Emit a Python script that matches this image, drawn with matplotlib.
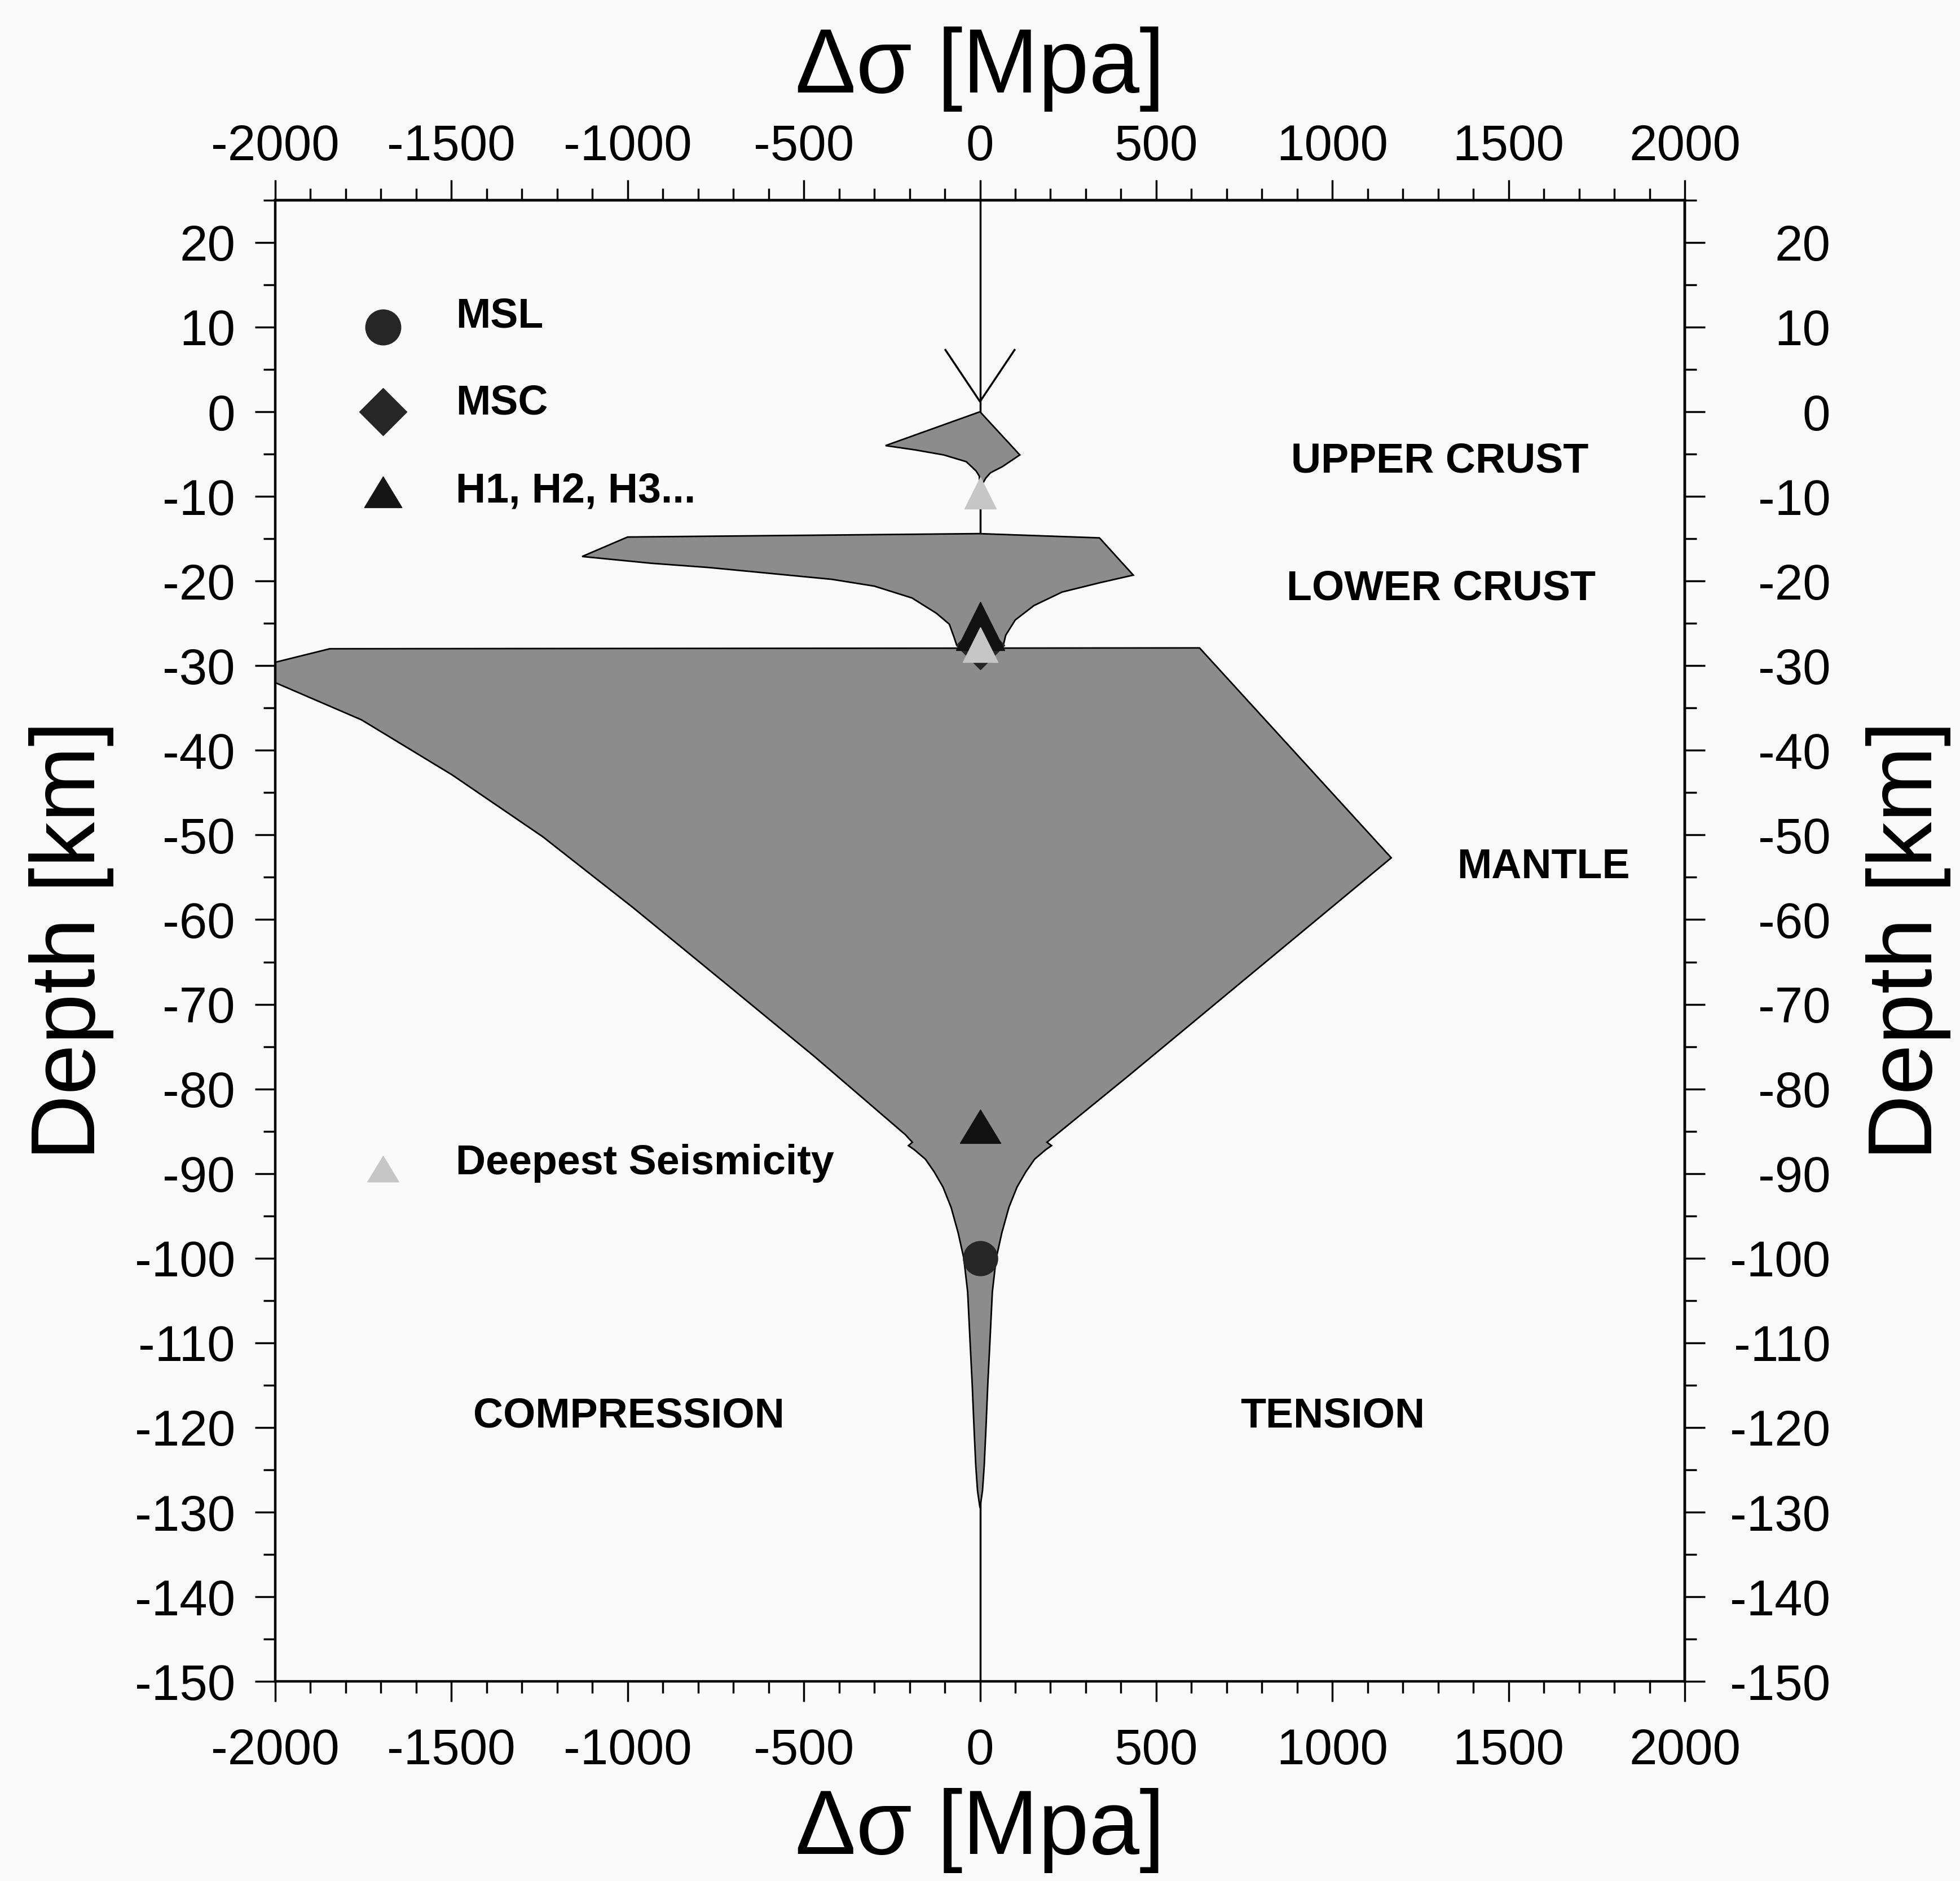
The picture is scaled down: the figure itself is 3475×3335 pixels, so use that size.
import matplotlib
matplotlib.use("Agg")
import matplotlib.pyplot as plt
from matplotlib.ticker import MultipleLocator

plt.rcParams['font.family'] = ['Liberation Sans', 'DejaVu Sans']
plt.rcParams['axes.unicode_minus'] = False

# stress envelope outlines: delta sigma [MPa], depth [km]
upper_x = [0, 113, 63, 30, 17, 0, -2, -11, -39, -103, -185, -268, 0]
upper_y = [0, -5.1, -6.5, -7.2, -7.8, -9.0, -7.6, -7.0, -5.9, -5.1, -4.5, -4.0, 0]

lower_x = [-1129, -1000, -2.5, 339, 435, 340, 233, 153, 100, 73, 66,
           -66, -74, -87, -124, -193, -300, -420, -607, -770, -933, -1129]
lower_y = [-17.1, -14.8, -14.4, -14.9, -19.3, -20.2, -21.3, -22.9, -24.6, -26.4, -27.6,
           -27.6, -26.6, -25.1, -23.8, -22.0, -20.6, -19.8, -19.05, -18.4, -17.9, -17.1]

mantle_x = [-1845, 623, 1167, 420, 190, 203, 186, 155, 130, 105, 82, 62, 46, 35, 28, 22, 17, 12, 7, 0,
            -7, -12, -17, -22, -28, -35, -46, -62, -82, -105, -130, -155, -186, -203, -192,
            -212, -469, -726, -984, -1241, -1498, -1755, -2000, -2000, -1845]
mantle_y = [-28.0, -27.9, -52.7, -78.5, -86.3, -86.7, -87.2, -88.3, -89.8, -91.6, -94.0, -97.0, -100.0,
            -104.0, -110.0, -115.0, -120.0, -124.5, -127.5, -129.5,
            -127.5, -124.5, -120.0, -115.0, -110.0, -104.0, -100.0, -97.0, -94.0, -91.6, -89.8, -88.3,
            -87.2, -86.7, -86.3,
            -85.4, -76.2, -67.4, -58.6, -50.2, -42.9, -36.4, -32.0, -29.6, -28.0]

# arrow at the surface
arrow_x = [-98, 0, 98]
arrow_y = [7.3, 1.2, 7.3]

# legend
legend_labels = ['MSL', 'MSC', 'H1, H2, H3...', 'Deepest Seismicity']
legend_y = [10.0, 0.0, -9.5, -89.5]
legend_text_y = [9.9, -0.3, -10.7, -90.1]

# observed points on the profile
msl_y = [-100.0]
msc_y = [-27.6]
h_big_y = [-25.3]
h_y = [-84.5]
deep_y = [-9.6]
deep_big_y = [-27.5]

regions = ['UPPER CRUST', 'LOWER CRUST', 'MANTLE', 'COMPRESSION', 'TENSION']
region_x = [1305, 1308, 1598, -996, 1000]
region_y = [-7.15, -22.2, -55.1, -120.0, -120.0]

x_ticks = [-2000, -1500, -1000, -500, 0, 500, 1000, 1500, 2000]
x_labels = ['-2000', '-1500', '-1000', '-500', '0', '500', '1000', '1500', '2000']
y_ticks = list(range(20, -151, -10))
y_labels = [str(v) for v in y_ticks]

bg = '#fafafa'
fill_c = '#8c8c8c'
dark = '#262626'
light = '#c6c6c6'
tri = [(-1, -0.8), (1, -0.8), (0, 0.85), (-1, -0.8)]

fig = plt.figure(figsize=(34.75, 33.35), dpi=100, facecolor=bg)
ax = fig.add_axes([0.1404, 0.1061, 0.7192, 0.7875])
ax.set_facecolor(bg)
ax.set_xlim(-2000, 2000)
ax.set_ylim(-150, 25)

ax.plot([0, 0], [-150, 25], color='black', lw=2.5, zorder=1)
ax.plot(arrow_x, arrow_y, color='black', lw=2.5, zorder=1)
for xs, ys in [(upper_x, upper_y), (lower_x, lower_y), (mantle_x, mantle_y)]:
    ax.fill(xs, ys, facecolor=fill_c, edgecolor='black', lw=2.0, zorder=2)

ax.plot([0] * len(msc_y), msc_y, ls='none', marker='D', ms=44, color=dark, zorder=4)
ax.plot([0] * len(h_big_y), h_big_y, ls='none', marker='^', ms=62, color='#111111', zorder=5)
ax.plot([0] * len(h_y), h_y, ls='none', marker=tri, ms=52, color='#111111', zorder=5)
ax.plot([0] * len(msl_y), msl_y, ls='none', marker='o', ms=44, color=dark, zorder=5)
ax.plot([0] * len(deep_big_y), deep_big_y, ls='none', marker='^', ms=45, color=light, zorder=6)
ax.plot([0] * len(deep_y), deep_y, ls='none', marker='^', ms=40, color=light, zorder=6)

# legend drawn inside the frame
leg_x = -1694
ax.plot([leg_x], [legend_y[0]], marker='o', ms=45, color=dark, ls='none')
ax.plot([leg_x], [legend_y[1]], marker='D', ms=43, color=dark, ls='none')
ax.plot([leg_x], [legend_y[2]], marker=tri, ms=48, color='#151515', ls='none')
ax.plot([leg_x], [legend_y[3]], marker=tri, ms=40, color=light, ls='none')
for lab, ty in zip(legend_labels, legend_text_y):
    ax.text(-1487, ty, lab, fontsize=53, fontweight='bold', ha='left', va='baseline')

for lab, rx, ry in zip(regions, region_x, region_y):
    ax.text(rx, ry, lab, fontsize=53, fontweight='bold', ha='center', va='baseline')

# ticks
tick_fs = 64
ax.set_xticks(x_ticks, x_labels)
ax.set_yticks(y_ticks, y_labels)
ax.xaxis.set_minor_locator(MultipleLocator(100))
ax.yaxis.set_minor_locator(MultipleLocator(5))
ax.tick_params(which='both', direction='out', width=2.5, labelsize=tick_fs)
ax.tick_params(which='major', length=26)
ax.tick_params(which='minor', length=15)
ax.tick_params(axis='x', pad=33)
ax.tick_params(axis='y', pad=25)

top = ax.secondary_xaxis('top')
top.set_xticks(x_ticks, x_labels)
top.xaxis.set_minor_locator(MultipleLocator(100))
top.tick_params(which='both', direction='out', width=2.5, labelsize=tick_fs, pad=11)
top.tick_params(which='major', length=26)
top.tick_params(which='minor', length=15)

right = ax.secondary_yaxis('right')
right.set_yticks(y_ticks, y_labels)
right.yaxis.set_minor_locator(MultipleLocator(5))
right.tick_params(which='both', direction='out', width=2.5, labelsize=tick_fs, pad=160)
right.tick_params(which='major', length=26)
right.tick_params(which='minor', length=15)
for lab in right.get_yticklabels():
    lab.set_horizontalalignment('right')

for sp in list(ax.spines.values()) + list(top.spines.values()) + list(right.spines.values()):
    sp.set_linewidth(3.2)

fig.text(0.5, 0.9634, 'Δσ [Mpa]', fontsize=116, ha='center', va='center')
fig.text(0.5, 0.0267, 'Δσ [Mpa]', fontsize=116, ha='center', va='center')
fig.text(0.0365, 0.5, 'Depth [km]', fontsize=116, rotation=90, ha='center', va='center')
fig.text(0.9738, 0.5, 'Depth [km]', fontsize=116, rotation=90, ha='center', va='center')

fig.savefig('out.png', dpi=100, facecolor=bg)
